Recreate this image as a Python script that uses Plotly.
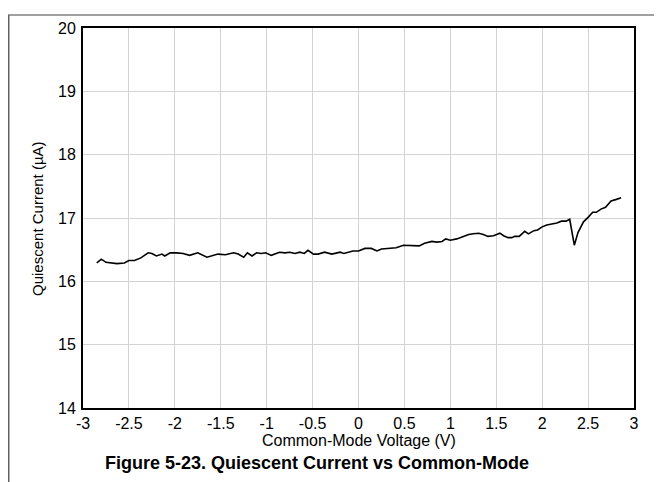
import plotly.graph_objects as go

# Common-mode voltage (V) and quiescent current (uA)
voltage = [
    -2.85, -2.80, -2.75, -2.69, -2.63, -2.55, -2.50, -2.44, -2.37, -2.29,
    -2.25, -2.20, -2.14, -2.11, -2.05, -1.98, -1.91, -1.84, -1.75, -1.65,
    -1.60, -1.53, -1.45, -1.36, -1.31, -1.25, -1.21, -1.16, -1.11, -1.06,
    -1.01, -0.95, -0.86, -0.80, -0.75, -0.69, -0.64, -0.59, -0.55, -0.49,
    -0.44, -0.37, -0.29, -0.20, -0.16, -0.06, 0.00, 0.07, 0.14, 0.20,
    0.25, 0.31, 0.36, 0.41, 0.49, 0.54, 0.60, 0.66, 0.72, 0.80,
    0.85, 0.91, 0.95, 1.00, 1.07, 1.14, 1.20, 1.25, 1.31, 1.36,
    1.41, 1.47, 1.54, 1.58, 1.63, 1.67, 1.70, 1.75, 1.81, 1.85,
    1.91, 1.95, 2.00, 2.05, 2.10, 2.16, 2.21, 2.26, 2.30, 2.35,
    2.39, 2.45, 2.50, 2.55, 2.59, 2.64, 2.69, 2.75, 2.80, 2.86,
]
current = [
    16.29, 16.35, 16.30, 16.29, 16.28, 16.29, 16.33, 16.33, 16.37, 16.45,
    16.44, 16.40, 16.43, 16.40, 16.45, 16.45, 16.44, 16.41, 16.45, 16.38,
    16.40, 16.43, 16.42, 16.45, 16.43, 16.38, 16.45, 16.40, 16.45, 16.44,
    16.45, 16.41, 16.46, 16.45, 16.46, 16.44, 16.46, 16.44, 16.49, 16.43,
    16.43, 16.46, 16.43, 16.46, 16.44, 16.48, 16.48, 16.52, 16.52, 16.48,
    16.51, 16.52, 16.53, 16.53, 16.57, 16.57, 16.57, 16.56, 16.60, 16.63,
    16.62, 16.63, 16.67, 16.65, 16.67, 16.71, 16.74, 16.75, 16.76, 16.74,
    16.71, 16.72, 16.76, 16.72, 16.69, 16.69, 16.71, 16.71, 16.79, 16.75,
    16.80, 16.81, 16.86, 16.89, 16.90, 16.92, 16.95, 16.95, 16.98, 16.57,
    16.77, 16.94, 17.01, 17.09, 17.09, 17.14, 17.17, 17.27, 17.29, 17.32,
]

x_ticks = [-3, -2.5, -2, -1.5, -1, -0.5, 0, 0.5, 1, 1.5, 2, 2.5, 3]
y_ticks = [14, 15, 16, 17, 18, 19, 20]

FONT = "Arial, 'Liberation Sans', sans-serif"

fig = go.Figure()
fig.add_trace(
    go.Scatter(
        x=voltage,
        y=current,
        mode="lines",
        line=dict(color="black", width=1.6),
        showlegend=False,
    )
)

axis_style = dict(
    showgrid=True,
    gridcolor="#d3d3d3",
    gridwidth=1,
    showline=True,
    linecolor="black",
    linewidth=2,
    mirror=True,
    ticks="",
    zeroline=False,
    tickfont=dict(family=FONT, size=16, color="black"),
)

# the page body adds 8px around the figure, so margins are trimmed by 8
fig.update_layout(
    width=654,
    height=474,
    margin=dict(l=75, r=28, t=14, b=74),
    paper_bgcolor="white",
    plot_bgcolor="white",
    font=dict(family=FONT, color="black"),
    xaxis=dict(
        range=[-3, 3],
        tickvals=x_ticks,
        ticktext=[f"{v:g}" for v in x_ticks],
        **axis_style,
    ),
    yaxis=dict(
        range=[14, 20],
        tickvals=y_ticks,
        ticklabelstandoff=2,
        **axis_style,
    ),
)

# axis titles and caption
fig.add_annotation(
    text="Common-Mode Voltage (V)",
    xref="paper", yref="paper", x=0.5, y=-0.085,
    xanchor="center", yanchor="middle", showarrow=False,
    font=dict(family=FONT, size=16, color="black"),
)
fig.add_annotation(
    text="Quiescent Current (µA)",
    xref="paper", yref="paper", x=-0.0835, y=0.5, textangle=-90,
    xanchor="center", yanchor="middle", showarrow=False,
    font=dict(family=FONT, size=15, color="black"),
)
fig.add_annotation(
    text="<b>Figure 5-23. Quiescent Current vs Common-Mode</b>",
    xref="paper", yref="paper", x=0.425, y=-0.145,
    xanchor="center", yanchor="middle", showarrow=False,
    font=dict(family=FONT, size=18, color="black"),
)

# page frame lines (top and left edges)
fig.add_shape(
    type="line", xref="paper", yref="paper",
    x0=-0.14, x1=1.06, y0=1.034, y1=1.034,
    line=dict(color="#808080", width=1.5),
)
fig.add_shape(
    type="line", xref="paper", yref="paper",
    x0=-0.1348, x1=-0.1348, y0=1.034, y1=-0.2,
    line=dict(color="#606060", width=1.5),
)

fig.write_html("out.html")
